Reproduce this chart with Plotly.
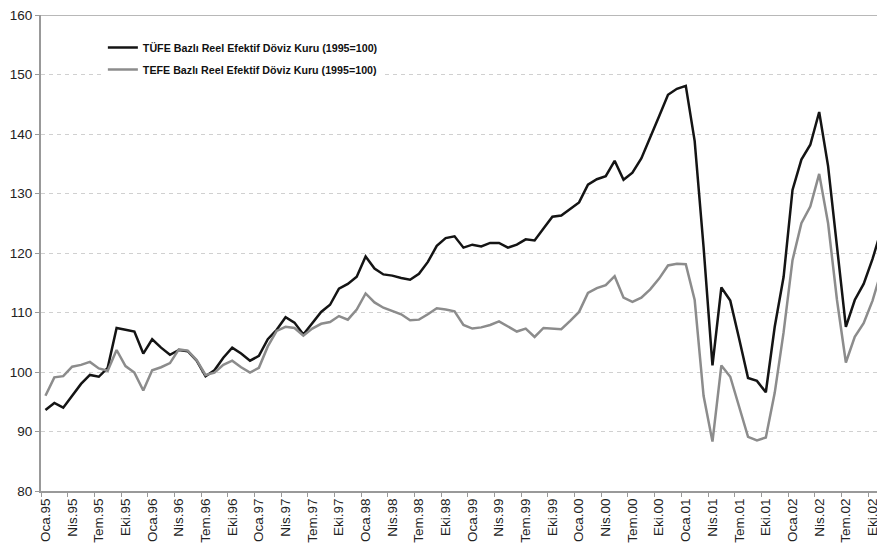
import plotly.graph_objects as go

month_names = ["Oca", "Şub", "Mar", "Nis", "May", "Haz", "Tem", "Ağu", "Eyl", "Eki", "Kas", "Ara"]
years = ["95", "96", "97", "98", "99", "00", "01", "02"]
categories = [f"{m}.{y}" for y in years for m in month_names][:95]  # Oca.95 ... Kas.02

tufe = [
    93.6, 94.8, 94.0, 96.0, 98.0, 99.5, 99.2, 100.7, 107.4, 107.1, 106.8, 103.1,
    105.5, 104.1, 102.9, 103.7, 103.5, 101.9, 99.3, 100.3, 102.4, 104.1, 103.1, 101.9,
    102.7, 105.5, 107.1, 109.2, 108.3, 106.3, 108.3, 110.1, 111.3, 114.0, 114.8, 116.0,
    119.4, 117.4, 116.4, 116.2, 115.8, 115.5, 116.5, 118.5, 121.2, 122.5, 122.8, 120.9,
    121.4, 121.1, 121.7, 121.7, 120.9, 121.4, 122.3, 122.1, 124.1, 126.1, 126.3, 127.4,
    128.5, 131.5, 132.4, 132.9, 135.5, 132.3, 133.5, 135.9, 139.3, 143.0, 146.6, 147.6,
    148.1, 138.8, 121.0, 101.1, 114.2, 112.0, 105.6, 99.0, 98.5, 96.6, 107.6, 116.0,
    130.6, 135.7, 138.2, 143.7, 134.6, 121.1, 107.6, 112.1, 114.8, 119.0, 124.0,
]

tefe = [
    96.0, 99.1, 99.3, 100.9, 101.2, 101.7, 100.6, 100.2, 103.7, 101.0, 99.9, 96.9,
    100.3, 100.8, 101.5, 103.8, 103.6, 102.0, 99.5, 99.9, 101.2, 101.9, 100.8, 99.9,
    100.7, 104.3, 106.9, 107.6, 107.4, 106.1, 107.3, 108.1, 108.4, 109.4, 108.8, 110.5,
    113.2, 111.7, 110.8, 110.2, 109.7, 108.7, 108.8, 109.7, 110.7, 110.5, 110.2, 107.9,
    107.3, 107.5, 107.9, 108.5, 107.7, 106.8, 107.3, 105.9, 107.4, 107.3, 107.2, 108.6,
    110.1, 113.3, 114.1, 114.6, 116.1, 112.5, 111.8, 112.5, 113.9, 115.7, 117.9, 118.2,
    118.1, 112.1, 96.0, 88.3, 101.1, 99.2, 94.1, 89.1, 88.5, 89.0, 96.5, 106.7,
    118.8, 125.0, 127.8, 133.3, 125.0, 112.1, 101.6, 105.9, 108.2, 112.0, 117.0,
]

tick_labels = categories[::3][:32]  # Oca.95, Nis.95, ..., Eki.02
y_ticks = [80, 90, 100, 110, 120, 130, 140, 150, 160]

series_names = [
    "TÜFE Bazlı Reel Efektif Döviz Kuru (1995=100)",
    "TEFE Bazlı Reel Efektif Döviz Kuru (1995=100)",
]

fig = go.Figure()
fig.add_trace(go.Scatter(
    x=categories, y=tufe, mode="lines", name=series_names[0], legendgroup="a",
    line=dict(color="#141414", width=2.5),
))
fig.add_trace(go.Scatter(
    x=categories, y=tefe, mode="lines", name=series_names[1], legendgroup="b",
    line=dict(color="#8c8c8c", width=2.5),
))

fig.update_layout(
    width=877, height=550,
    margin=dict(l=41, r=0, t=15, b=59),
    paper_bgcolor="white", plot_bgcolor="white",
    font=dict(family="Liberation Sans, Arial, sans-serif", color="#222"),
    showlegend=True,
    legend=dict(
        x=0.074, y=0.962, xanchor="left", yanchor="top",
        bgcolor="white", borderwidth=0,
        font=dict(size=10.7, color="#111", family="Liberation Sans, Arial, sans-serif", weight="bold"),
        tracegroupgap=3, traceorder="grouped", itemwidth=30,
    ),
    xaxis=dict(
        type="category",
        categoryorder="array", categoryarray=categories,
        range=[-0.5, 93.5],
        tickmode="array", tickvals=tick_labels, ticktext=tick_labels,
        tickson="boundaries",
        tickangle=-90,
        tickfont=dict(size=13.5, color="#222"),
        ticks="outside", ticklen=4, tickcolor="#999", tickwidth=1,
        showgrid=False, zeroline=False,
        showline=True, linecolor="#999", linewidth=2,
        automargin=False,
    ),
    yaxis=dict(
        range=[80, 160],
        tickmode="array", tickvals=y_ticks,
        tickfont=dict(size=13.5, color="#222"),
        ticks="outside", ticklen=4, tickcolor="#999", tickwidth=1,
        showgrid=True, gridcolor="#d0d0d0", gridwidth=1, griddash="4px,4px",
        zeroline=False,
        showline=True, linecolor="#999", linewidth=2,
        automargin=False,
    ),
    shapes=[dict(
        type="line", xref="paper", yref="y", x0=0, x1=1, y0=160, y1=160,
        line=dict(color="#a0a0a0", width=1.5), layer="above",
    )],
)

fig.write_html(
    "out.html",
    config={"displayModeBar": False},
    post_script="document.body.style.margin='0';document.body.style.overflow='hidden';",
)
